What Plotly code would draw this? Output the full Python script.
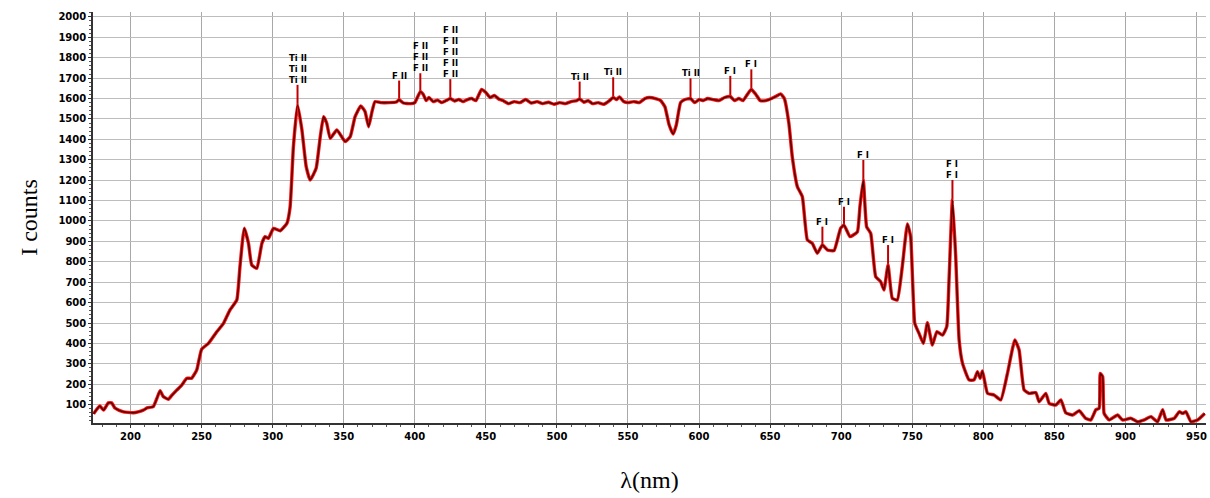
import numpy as np
import plotly.graph_objects as go

# ---------------- data ----------------
wavelength = [
    174, 176, 178.5, 181, 184.4, 186.7, 189, 192, 195, 198, 202, 206, 209, 212, 216,
    218.5, 220.8, 223, 226.6, 229, 232.5, 236, 239.6, 243, 246.6, 250, 254.8, 260.7,
    265.4, 270, 274.8, 277, 280, 283, 285.3, 288.9, 292.4, 294.7, 297, 300.6, 305.3,
    310, 312.3, 314.6, 317.5, 320.6, 323.6, 326.4, 330.6, 333.5, 335.8, 338, 340.5,
    345.2, 351, 354.6, 358, 362, 365, 367.5, 369.9, 372, 376, 382, 387, 389, 392, 397,
    400, 403.9, 406, 408, 410, 413, 416, 419, 422, 425, 428, 431, 434, 437, 440, 443,
    447, 450, 453, 456, 459, 462, 466, 470, 474, 478, 482, 486, 490, 494, 498, 502,
    506, 510, 514, 516, 519, 522, 525, 529, 533, 537, 539.6, 542, 544, 547, 550, 554,
    558, 562, 565, 570, 573, 576, 579, 581.8, 584, 587, 590, 594, 597, 600, 603, 606,
    610, 614, 618, 622, 625, 628, 631, 634, 636.8, 640, 643, 647, 651, 654.5, 657.4,
    660, 663.2, 665.6, 669.2, 672.7, 676.2, 679.7, 683.2, 686.8, 690.3, 695, 699.6,
    702, 706.2, 711.4, 713.2, 715.6, 717.9, 720.8, 724.3, 727.8, 730.1, 733, 736,
    739.5, 743, 746.6, 748.9, 751.8, 754.8, 757.9, 760.7, 764.2, 767.3, 771.3, 774.3,
    775.9, 778.3, 780.6, 783, 785.4, 790, 793.5, 795.9, 797.8, 799.4, 803, 807.6,
    812.3, 817, 822.2, 825.2, 828.7, 832.2, 837, 839.3, 844, 846.4, 851, 854.6, 858,
    862.8, 867.5, 872, 875.7, 879.2, 881.5, 882.3, 884, 885, 888.6, 894.5, 898, 903.9,
    908.6, 913.3, 918, 922.6, 926.2, 928.6, 934.4, 937.9, 940.3, 942.6, 946.1, 950.8,
    955.8,
]
counts = [
    55, 75, 93, 73, 109, 109, 83, 72, 65, 62, 60, 66, 73, 85, 90,
    130, 168, 140, 126, 145, 171, 195, 229, 229, 270, 371, 400, 457,
    498, 564, 613, 776, 964, 890, 784, 768, 890, 923, 915, 964, 952,
    988, 1070, 1364, 1569, 1446, 1266, 1201, 1258, 1413, 1511, 1480, 1405,
    1446, 1389, 1413, 1511, 1564, 1536, 1462, 1536, 1585, 1580, 1580, 1583, 1594, 1578, 1575,
    1580, 1634, 1620, 1590, 1605, 1585, 1592, 1580, 1590, 1600, 1588, 1595, 1585, 1595, 1600, 1590,
    1645, 1630, 1605, 1615, 1598, 1590, 1575, 1585, 1580, 1595, 1578, 1585, 1575, 1582, 1572, 1580,
    1575, 1585, 1590, 1598, 1582, 1590, 1575, 1580, 1572, 1590, 1605, 1595, 1608, 1585, 1580, 1585,
    1580, 1600, 1605, 1598, 1590, 1560, 1470, 1426, 1470, 1580, 1595, 1600, 1580, 1595, 1590, 1600,
    1595, 1590, 1605, 1610, 1590, 1600, 1590, 1620, 1645, 1620, 1590, 1590, 1600, 1612, 1623,
    1600, 1479, 1315, 1168, 1119, 907, 890, 842, 882, 858, 855, 964,
    980, 923, 947, 1070, 1201, 972, 939, 727, 703, 662, 784, 621,
    613, 776, 985, 923, 498, 449, 400, 501, 392, 457, 441, 482,
    711, 1103, 825, 417, 302, 221, 221, 261, 229, 265, 155, 147,
    123, 253, 417, 368, 172, 155, 159, 114, 155, 106, 98, 123, 60,
    49, 70, 33, 25, 75, 82, 253, 237, 57, 25, 49, 25, 33,
    16, 25, 41, 16, 75, 25, 33, 65, 57, 65, 16, 25,
    57,
]

# line identifications: wavelength, top of marker line, stacked labels
line_wl = [317.5, 389, 403.9, 425, 516, 539.6, 594, 622, 636.8, 686.8, 702, 715.6, 733, 778.3]
line_top = [1667, 1688, 1724, 1695, 1683, 1704, 1699, 1711, 1743, 972, 1070, 1299, 882, 1201]
line_labels = [
    ["Ti II"] * 3, ["F II"], ["F II"] * 3, ["F II"] * 5, ["Ti II"], ["Ti II"], ["Ti II"],
    ["F I"], ["F I"], ["F I"], ["F I"], ["F I"], ["F I"], ["F I"] * 2,
]

x_ticks = list(range(200, 951, 50))
y_ticks = list(range(100, 2001, 100))

# ---------------- figure ----------------
fig = go.Figure()

# identification marker lines
for wl, top in zip(line_wl, line_top):
    base = float(np.interp(wl, wavelength, counts))
    fig.add_trace(go.Scatter(x=[wl, wl], y=[base, top], mode="lines",
                             line=dict(color="#c00000", width=2), hoverinfo="skip",
                             showlegend=False))

# spectrum: red halo + dark core
fig.add_trace(go.Scatter(x=wavelength, y=counts, mode="lines",
                         line=dict(color="#ff1010", width=3.4, shape="spline", smoothing=0.4),
                         showlegend=False, hoverinfo="skip"))
fig.add_trace(go.Scatter(x=wavelength, y=counts, mode="lines",
                         line=dict(color="#4a0000", width=1.4, shape="spline", smoothing=0.4),
                         showlegend=False))

for wl, top, labs in zip(line_wl, line_top, line_labels):
    fig.add_annotation(x=wl, y=top, text="<br>".join(labs), showarrow=False,
                       xanchor="center", yanchor="bottom", yshift=-1,
                       font=dict(family="DejaVu Sans", size=8.5, color="black", weight="bold"),
                       borderpad=0)

fig.update_layout(
    width=1210, height=498,
    margin=dict(l=93, r=4, t=12, b=75),
    paper_bgcolor="white", plot_bgcolor="white",
    showlegend=False,
)
fig.update_xaxes(
    range=[173.6, 956.7],
    tickvals=x_ticks, ticktext=[str(v) for v in x_ticks],
    tickfont=dict(family="DejaVu Sans", size=10, color="black", weight="bold"),
    showgrid=True, gridcolor="#a8a8a8", gridwidth=1,
    showline=True, linecolor="#333333", linewidth=1.5,
    ticks="outside", ticklen=3, tickcolor="#333333",
    minor=dict(dtick=10, tick0=0, ticks="outside", ticklen=2, tickcolor="#555555", showgrid=False),
    zeroline=False,
    title=dict(text="λ(nm)", font=dict(family="Liberation Serif", size=24, color="black"),
               standoff=30),
)
fig.update_yaxes(
    range=[10, 2024],
    tickvals=y_ticks, ticktext=[str(v) for v in y_ticks],
    tickfont=dict(family="DejaVu Sans", size=10, color="black", weight="bold"),
    showgrid=True, gridcolor="#bdbdbd", gridwidth=1,
    showline=True, linecolor="#333333", linewidth=1.5,
    ticks="outside", ticklen=3, tickcolor="#333333",
    minor=dict(dtick=20, tick0=0, ticks="outside", ticklen=2, tickcolor="#555555", showgrid=False),
    zeroline=False,
    title=dict(text="I counts", font=dict(family="Liberation Serif", size=24, color="black"),
               standoff=14),
)

fig.write_html("out.html")
